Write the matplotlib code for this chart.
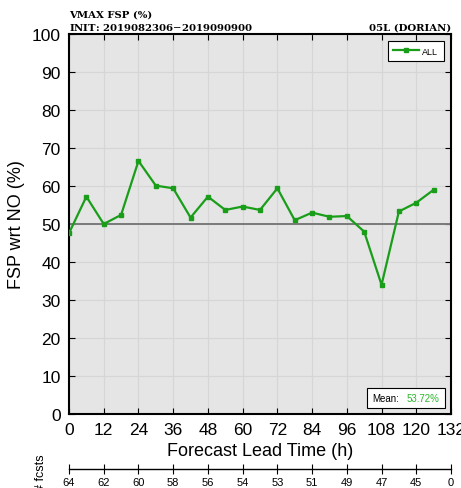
import matplotlib
matplotlib.use('Agg')
import matplotlib.pyplot as plt
from matplotlib.offsetbox import AnchoredOffsetbox, HPacker, TextArea

lead = [0, 6, 12, 18, 24, 30, 36, 42, 48, 54, 60, 66, 72, 78, 84, 90, 96, 102, 108, 114, 120, 126]
fsp = [47.6, 57.2, 50.0, 52.4, 66.6, 60.1, 59.4, 51.7, 57.2, 53.7, 54.6, 53.7, 59.4, 51.0,
       53.0, 51.9, 52.1, 48.0, 34.0, 53.3, 55.6, 59.0]
xticks = [0, 12, 24, 36, 48, 60, 72, 84, 96, 108, 120, 132]
nfcst = [64, 62, 60, 58, 56, 54, 53, 51, 49, 47, 45, 0]
mean_txt = '53.72%'

plt.rcParams['font.family'] = ['Liberation Sans', 'DejaVu Sans']
green = '#1a9e1a'

fig = plt.figure(figsize=(4.61, 4.89), dpi=100)
ax = fig.add_axes([0.1497, 0.1513, 0.8286, 0.7771])
ax.set_facecolor('#e5e5e5')
ax.set_xlim(0, 132)
ax.set_ylim(0, 100)
ax.set_xticks(xticks)
ax.set_yticks(range(0, 101, 10))
ax.grid(True, color='#d6d6d6', lw=0.9)
ax.set_axisbelow(True)
ax.axhline(50, color='#7a7a7a', lw=1.4, zorder=2)
ax.plot(lead, fsp, color=green, lw=1.6, marker='s', ms=3, label='ALL', zorder=3)
ax.tick_params(direction='in', top=True, right=True, labelsize=12.5, length=4)
ax.tick_params(axis='x', pad=6)
ax.tick_params(axis='y', pad=6)
for s in ax.spines.values():
    s.set_linewidth(1.5)
ax.set_xlabel('Forecast Lead Time (h)', fontsize=13, labelpad=3)
ax.set_ylabel('FSP wrt NO (%)', fontsize=13, labelpad=5)

leg = ax.legend(loc='upper right', fontsize=6.5, handlelength=2.8, fancybox=False,
                edgecolor='black', framealpha=1, borderpad=0.6, handletextpad=0.4,
                borderaxespad=0.8)
leg.get_frame().set_linewidth(0.8)

mbox = HPacker(children=[TextArea('Mean:', textprops=dict(fontsize=7, color='black')),
                         TextArea(mean_txt, textprops=dict(fontsize=7, color='#2db52d'))],
               align='baseline', pad=0, sep=6)
anc = AnchoredOffsetbox(loc='lower right', child=mbox, pad=0.35, borderpad=0.45, frameon=True)
anc.patch.set_edgecolor('black')
anc.patch.set_linewidth(0.8)
anc.patch.set_boxstyle('square,pad=0')
ax.add_artist(anc)

ax.text(0.0, 1.042, 'VMAX FSP (%)', transform=ax.transAxes, fontsize=7.3, fontweight='bold',
        family='DejaVu Serif', ha='left', va='bottom')
ax.text(0.0, 1.006, 'INIT: 2019082306$-$2019090900', transform=ax.transAxes, fontsize=7.3,
        fontweight='bold', family='DejaVu Serif', ha='left', va='bottom')
ax.text(1.0, 1.006, '05L (DORIAN)', transform=ax.transAxes, fontsize=7.3, fontweight='bold',
        family='DejaVu Serif', ha='right', va='bottom')

ax2 = fig.add_axes([0.1497, 0.0389, 0.8286, 0.0001])
ax2.set_xlim(0, 132)
ax2.set_ylim(0, 1)
ax2.set_yticks([])
ax2.set_xticks(xticks)
ax2.set_xticklabels([str(v) for v in nfcst])
ax2.tick_params(axis='x', direction='inout', length=7, labelsize=8, pad=2)
for k in ['top', 'left', 'right']:
    ax2.spines[k].set_visible(False)
ax2.spines['bottom'].set_linewidth(1.0)
fig.text(0.09, -0.005, '# fcsts', rotation=90, fontsize=9, ha='center', va='bottom')

fig.savefig('out.png', dpi=100)
